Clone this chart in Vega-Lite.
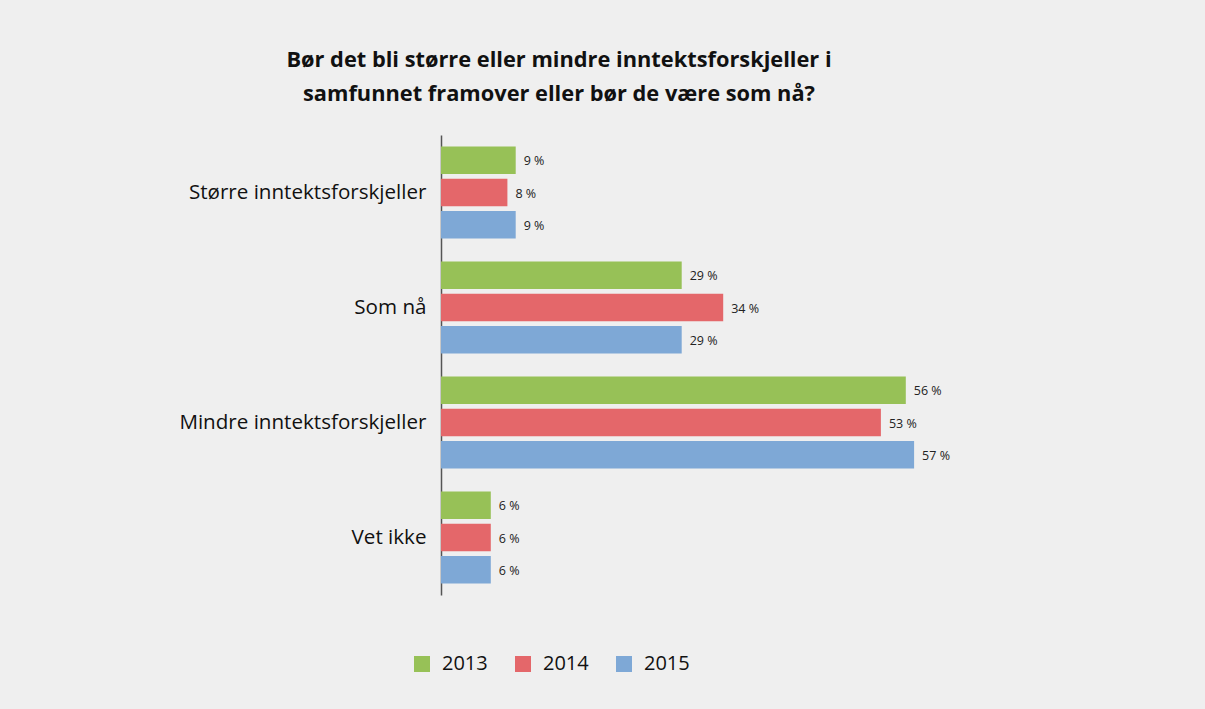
{
  "$schema": "https://vega.github.io/schema/vega-lite/v6.json",
  "autosize": {"type": "none"},
  "width": 498,
  "height": 460,
  "padding": {"left": 441, "top": 135, "right": 266, "bottom": 114},
  "background": "#efefef",
  "config": {"view": {"stroke": null}, "font": "Open Sans"},
  "title": {
    "text": ["Bør det bli større eller mindre inntektsforskjeller i", "samfunnet framover eller bør de være som nå?"],
    "anchor": "middle",
    "frame": "group",
    "dx": -131,
    "offset": 29,
    "font": "Open Sans",
    "fontSize": 21.8,
    "fontWeight": "bold",
    "color": "#111111",
    "lineHeight": 34
  },
  "data": {
    "values": [
      {"kategori": "Større inntektsforskjeller", "år": "2013", "verdi": 9},
      {"kategori": "Større inntektsforskjeller", "år": "2014", "verdi": 8},
      {"kategori": "Større inntektsforskjeller", "år": "2015", "verdi": 9},
      {"kategori": "Som nå", "år": "2013", "verdi": 29},
      {"kategori": "Som nå", "år": "2014", "verdi": 34},
      {"kategori": "Som nå", "år": "2015", "verdi": 29},
      {"kategori": "Mindre inntektsforskjeller", "år": "2013", "verdi": 56},
      {"kategori": "Mindre inntektsforskjeller", "år": "2014", "verdi": 53},
      {"kategori": "Mindre inntektsforskjeller", "år": "2015", "verdi": 57},
      {"kategori": "Vet ikke", "år": "2013", "verdi": 6},
      {"kategori": "Vet ikke", "år": "2014", "verdi": 6},
      {"kategori": "Vet ikke", "år": "2015", "verdi": 6}
    ]
  },
  "transform": [{"calculate": "datum.verdi + ' %'", "as": "etikett"}],
  "encoding": {
    "y": {
      "field": "kategori",
      "type": "nominal",
      "sort": ["Større inntektsforskjeller", "Som nå", "Mindre inntektsforskjeller", "Vet ikke"],
      "scale": {"paddingInner": 0.2, "paddingOuter": 0.1},
      "axis": {
        "title": null,
        "ticks": false,
        "labelLimit": 0,
        "labelFontSize": 20.6,
        "labelFont": "Open Sans",
        "labelColor": "#111111",
        "labelPadding": 15,
        "domainColor": "#555555",
        "domainWidth": 1.5
      }
    },
    "yOffset": {
      "field": "år",
      "type": "nominal",
      "scale": {"paddingInner": 0.15, "paddingOuter": 0}
    },
    "x": {
      "field": "verdi",
      "type": "quantitative",
      "scale": {"domain": [0, 60]},
      "axis": null
    }
  },
  "layer": [
    {
      "mark": {"type": "bar"},
      "encoding": {
        "color": {
          "field": "år",
          "type": "nominal",
          "scale": {"domain": ["2013", "2014", "2015"], "range": ["#97c157", "#e4676a", "#7ea8d6"]},
          "legend": {
            "title": null,
            "orient": "none",
            "direction": "horizontal",
            "legendX": -29,
            "legendY": 519,
            "symbolType": "square",
            "symbolSize": 256,
            "symbolStrokeWidth": 0,
            "symbolOpacity": 1,
            "labelFontSize": 20,
            "labelFont": "Open Sans",
            "labelColor": "#111111",
            "labelOffset": 10,
            "columnPadding": 25
          }
        }
      }
    },
    {
      "mark": {"type": "text", "align": "left", "baseline": "middle", "dx": 8, "dy": 1, "fontSize": 12.5, "font": "Open Sans", "color": "#222222"},
      "encoding": {"text": {"field": "etikett"}}
    }
  ]
}
